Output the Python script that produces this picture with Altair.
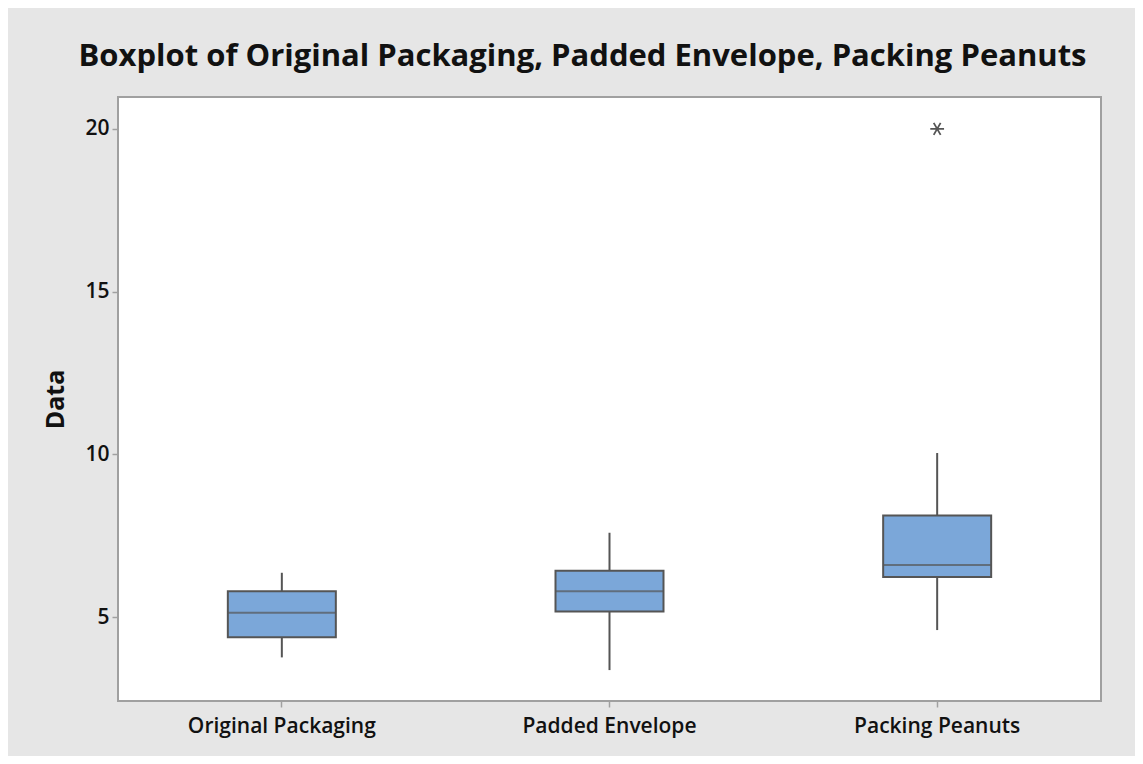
import altair as alt
import pandas as pd

categories = ["Original Packaging", "Padded Envelope", "Packing Peanuts"]
lower = [3.76, 3.37, 4.60]
q1 = [4.38, 5.17, 6.23]
median = [5.13, 5.79, 6.60]
q3 = [5.79, 6.42, 8.12]
upper = [6.36, 7.59, 10.04]
outlier_cats = ["Packing Peanuts"]
outlier_vals = [20.0]
y_ticks = [5, 10, 15, 20]

box = pd.DataFrame({"cat": categories, "lower": lower, "q1": q1,
                    "median": median, "q3": q3, "upper": upper})
out = pd.DataFrame({"cat": outlier_cats, "value": outlier_vals})

FONT = "Open Sans"
DARK = "#555555"

x_enc = alt.X("cat:N", sort=categories,
              scale=alt.Scale(paddingInner=0, paddingOuter=0),
              axis=alt.Axis(title=None, domain=False, tickColor="#a0a0a0",
                            tickSize=6, tickWidth=1.5, labelAngle=0,
                            labelFont=FONT, labelFontSize=21, labelFontWeight=600,
                            labelColor="#111111", labelPadding=8, labelLimit=500))
y_scale = alt.Scale(domain=[2.42, 20.98], nice=False, zero=False)
y_axis = alt.Axis(title="Data", values=y_ticks, grid=False, domain=False,
                  tickColor="#a0a0a0", tickSize=6, tickWidth=1.5,
                  labelFont=FONT, labelFontSize=21, labelFontWeight=600,
                  labelColor="#111111", labelPadding=3,
                  titleFont=FONT, titleFontSize=25, titleFontWeight="bold",
                  titleColor="#111111", titleX=-63, titleY=302,
                  titleAngle=270, titleAlign="center", titleBaseline="middle")

base = alt.Chart(box)

whisker = base.mark_rule(color=DARK, strokeWidth=2).encode(
    x=x_enc,
    y=alt.Y("lower:Q", scale=y_scale, axis=y_axis),
    y2="upper:Q",
)
bars = base.mark_bar(color="#7ba7d9", stroke=DARK, strokeWidth=2, size=108).encode(
    x=alt.X("cat:N", sort=categories),
    y=alt.Y("q1:Q"),
    y2="q3:Q",
)
med = base.mark_tick(color=DARK, thickness=2, size=108).encode(
    x=alt.X("cat:N", sort=categories),
    y=alt.Y("median:Q"),
)
star = alt.Chart(out).mark_point(
    shape="M-1,0L1,0M-0.5,-0.866L0.5,0.866M-0.5,0.866L0.5,-0.866",
    filled=False, stroke=DARK, strokeWidth=1.8, size=190, opacity=1,
).encode(
    x=alt.X("cat:N", sort=categories),
    y=alt.Y("value:Q"),
)

chart = alt.layer(whisker, bars, med, star).properties(
    width=983, height=604,
    title=alt.TitleParams(
        "Boxplot of Original Packaging, Padded Envelope, Packing Peanuts",
        font=FONT, fontSize=31, fontWeight="bold", color="#111111",
        anchor="middle", frame="group", dx=-27, offset=24),
    autosize=alt.AutoSizeParams(type="none"),
    padding={"left": 110, "top": 89, "right": 34, "bottom": 55},
    background="#e6e6e6",
).configure_view(fill="white", stroke="#a0a0a0", strokeWidth=2)

chart.save("out.html", embed_options={"renderer": "svg", "actions": False})
